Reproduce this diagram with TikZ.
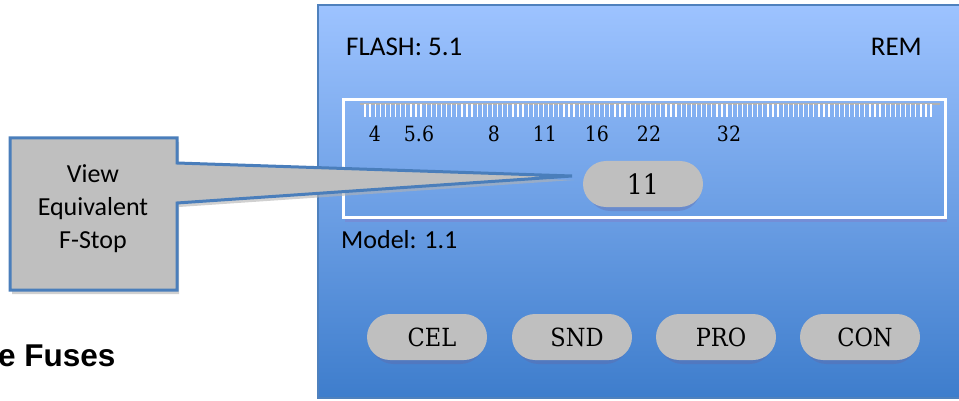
\documentclass[tikz,border=0pt]{standalone}
\usepackage{fontspec}
\usetikzlibrary{shapes.misc}
\newfontfamily\calfont{Carlito}
\newfontfamily\arialfont{Liberation Sans}
\newfontfamily\numfont{DejaVu Serif Condensed}
\definecolor{panelborder}{HTML}{4F81BD}
\definecolor{paneltop}{HTML}{9DC3FF}
\definecolor{panelbottom}{HTML}{3E7DCC}
\definecolor{pillgray}{HTML}{BFBFBF}
\definecolor{callblue}{HTML}{4A7EBB}
\tikzset{
  pill/.style={rounded rectangle, fill=pillgray, minimum width=120pt, minimum height=46pt, inner sep=0pt,
    font=\numfont\fontsize{28}{32}\selectfont},
  pillshadow/.style={rounded rectangle, fill=black!60!blue!60, opacity=0.35, minimum width=120pt, minimum height=46pt},
  sanslabel/.style={font=\calfont\fontsize{27}{32}\selectfont, inner sep=0pt},
  scalelabel/.style={font=\numfont\fontsize{21}{25}\selectfont, inner sep=0pt, anchor=base},
}
\begin{document}
\begin{tikzpicture}[x=1pt,y=-1pt]
\clip (0,0) rectangle (959,401);
\useasboundingbox (0,0) rectangle (959,401);
\fill[white] (0,0) rectangle (959,401);
% main panel
\shade[top color=paneltop, bottom color=panelbottom] (318,5) rectangle (965,398);
\draw[panelborder, line width=2] (318,5) rectangle (965,398);
% labels
\node[sanslabel, anchor=west] (flash) at (346,47) {FLASH: 5.1};
\node[sanslabel, anchor=east] (rem) at (922,47) {REM};
\node[sanslabel, anchor=west, font=\calfont\fontsize{26}{31}\selectfont] (model) at (341,240) {Model: 1.1};
% ruler box
\draw[black!40!blue!50, opacity=0.5, line width=3] (345,220) -- (947,220);
\draw[white, line width=3] (343,100) rectangle (945,217);
\draw[gray!60, line width=2.5] (360,104) -- (940,104);
\foreach \i in {0,...,111}
  \draw[white, line width=1.3] ({365+\i*5.1},104) -- ++(0,13);
\node[scalelabel] (s4) at (375,142) {4};
\node[scalelabel] (s56) at (419,142) {5.6};
\node[scalelabel] (s8) at (494,142) {8};
\node[scalelabel] (s11) at (545,142) {11};
\node[scalelabel] (s16) at (597,142) {16};
\node[scalelabel] (s22) at (649,142) {22};
\node[scalelabel] (s32) at (729,142) {32};
% value pill
\node[pillshadow] at (644,188) {};
\node[pill] (val) at (643,184) {11};
% buttons
\foreach \x/\t/\n in {427/CEL/cel,572/SND/snd,716/PRO/pro,860/CON/con}{
  \node[pillshadow] at (\x,341) {};
  \node[pill, font=\numfont\fontsize{25}{29}\selectfont] (\n) at (\x,337) {\hspace{10pt}\t};
}
% callout
\coordinate (tip) at (572,176);
\fill[black!30, opacity=0.6] (12,142) -- (179,142) -- (179,207) -- (574,180) -- (179,168) -- (179,294) -- (12,294) -- cycle;
\filldraw[fill=pillgray, draw=callblue, line width=3, line join=miter]
  (10,138) -- (177,138) -- (177,163) -- (tip) -- (177,203) -- (177,290) -- (10,290) -- cycle;
\node[font=\calfont\fontsize{26}{33}\selectfont, align=center, inner sep=0pt] (view) at (93,209) {View\\Equivalent\\F-Stop};
% heading fragment
\node[font=\arialfont\bfseries\fontsize{31.5}{36}\selectfont, anchor=base west, inner sep=0pt] (fuses) at (-2,366) {e Fuses};
\end{tikzpicture}
\end{document}
